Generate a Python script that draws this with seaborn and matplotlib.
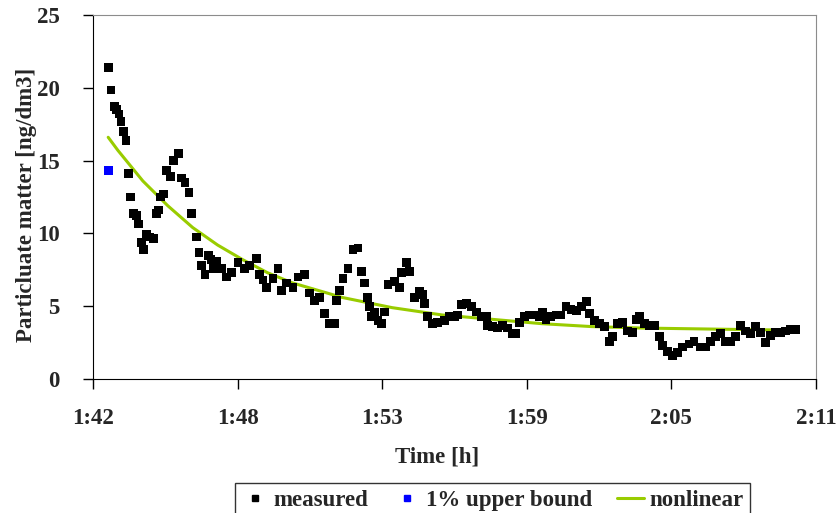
import seaborn as sns
import pandas as pd
import matplotlib.pyplot as plt
from matplotlib.lines import Line2D

#-----------------------------------------------------------------------------------------------------------------------
"""Data read off the chart (time = minutes after 1:42)"""
t_measured = [0.61, 0.72, 0.85, 0.95, 1.04, 1.12, 1.21, 1.32, 1.41, 1.52, 1.61, 1.75, 1.81, 1.95, 2.02,
              2.15, 2.28, 2.42, 2.55, 2.62, 2.72, 2.82, 2.95, 3.12, 3.22, 3.42, 3.55, 3.69, 3.85, 3.95,
              4.15, 4.25, 4.35, 4.49, 4.62, 4.73, 4.82, 4.96, 5.16, 5.36, 5.56, 5.82, 6.09, 6.29, 6.56,
              6.69, 6.82, 6.96, 7.22, 7.42, 7.56, 7.76, 8.02, 8.22, 8.49, 8.69, 8.89, 9.09, 9.29, 9.49,
              9.69, 9.76, 9.89, 10.03, 10.23, 10.43, 10.63, 10.76, 10.90, 11.00, 11.10, 11.16, 11.30, 11.43,
              11.56, 11.70, 11.83, 12.10, 12.30, 12.37, 12.57, 12.70, 12.90, 13.10, 13.23, 13.30, 13.43, 13.63,
              13.83, 14.10, 14.30, 14.50, 14.61, 14.77, 14.97, 15.17, 15.37, 15.57, 15.77, 15.83, 16.03, 16.23,
              16.44, 16.64, 16.84, 16.97, 17.10, 17.30, 17.50, 17.70, 17.91, 18.04, 18.17, 18.37, 18.57, 18.77,
              18.97, 19.17, 19.38, 19.58, 19.78, 19.91, 20.11, 20.31, 20.51, 20.71, 20.84, 21.04, 21.24, 21.44,
              21.64, 21.78, 21.91, 22.11, 22.31, 22.51, 22.71, 22.84, 23.04, 23.24, 23.44, 23.64, 23.91, 24.11,
              24.38, 24.58, 24.78, 24.98, 25.18, 25.38, 25.58, 25.78, 25.98, 26.18, 26.38, 26.58, 26.79, 26.99,
              27.19, 27.39, 27.59, 27.79, 27.99, 28.19]
pm_measured = [21.4, 19.85, 18.7, 18.5, 18.2, 17.7, 17.0, 16.4, 14.1, 12.5, 11.35, 11.25, 10.65, 9.35, 8.9,
               9.95, 9.75, 9.65, 11.35, 11.6, 12.5, 12.7, 14.3, 13.9, 15.0, 15.5, 13.8, 13.5, 12.8, 11.35,
               9.75, 8.7, 7.8, 7.2, 8.5, 8.2, 7.6, 8.1, 7.6, 7.0, 7.3, 8.0, 7.6, 7.8, 8.3,
               7.2, 6.8, 6.3, 6.9, 7.6, 6.1, 6.6, 6.3, 7.0, 7.2, 5.9, 5.4, 5.6, 4.5, 3.8,
               3.8, 5.4, 6.1, 6.9, 7.6, 8.9, 9.0, 7.4, 6.6, 5.6, 5.0, 4.3, 4.6, 4.0,
               3.8, 4.6, 6.5, 6.7, 6.3, 7.3, 8.0, 7.4, 5.6, 6.0, 5.8, 5.2, 4.3, 3.8,
               3.9, 4.0, 4.3, 4.3, 4.4, 5.1, 5.2, 5.0, 4.6, 4.3, 4.3, 3.7, 3.6, 3.5,
               3.7, 3.5, 3.1, 3.1, 3.9, 4.3, 4.4, 4.4, 4.3, 4.6, 4.1, 4.3, 4.4, 4.4,
               5.0, 4.8, 4.7, 5.0, 5.3, 4.5, 4.0, 3.8, 3.6, 2.6, 2.9, 3.8, 3.9, 3.3,
               3.2, 4.1, 4.3, 3.8, 3.7, 3.7, 2.9, 2.3, 1.9, 1.6, 1.8, 2.2, 2.4, 2.6,
               2.2, 2.2, 2.6, 2.9, 3.1, 2.6, 2.6, 2.9, 3.7, 3.3, 3.1, 3.6, 3.2, 2.5,
               3.0, 3.2, 3.2, 3.3, 3.4, 3.4]

t_bound = [0.61]
pm_bound = [14.3]

t_fit = [0.61, 1, 2, 3, 4, 5, 6, 7, 8, 9, 10, 12, 14, 16, 18, 20, 22, 24, 26, 28.2]
pm_fit = [16.6, 15.7, 13.6, 11.9, 10.4, 9.2, 8.2, 7.3, 6.6, 6.1, 5.6, 4.9, 4.4, 4.1, 3.8, 3.6, 3.5, 3.45, 3.4, 3.35]

tick_pos = [0, 5.8, 11.6, 17.4, 23.2, 29]
tick_labels = ['1:42', '1:48', '1:53', '1:59', '2:05', '2:11']

df_meas = pd.DataFrame({'time': t_measured, 'pm': pm_measured})
df_bound = pd.DataFrame({'time': t_bound, 'pm': pm_bound})
df_fit = pd.DataFrame({'time': t_fit, 'pm': pm_fit})

#-----------------------------------------------------------------------------------------------------------------------
"""Figure"""
sns.set_style('white')
plt.rcParams['font.family'] = ['Liberation Serif', 'DejaVu Serif']
plt.rcParams['font.weight'] = 'bold'
FS = 16.5

fig = plt.figure(figsize=(8.4, 5.13), dpi=100)
ax = fig.add_axes([0.1107, 0.2612, 0.8607, 0.7096])

GREEN = '#99cc00'
sns.lineplot(data=df_fit, x='time', y='pm', color=GREEN, linewidth=2.2, ax=ax, zorder=2, legend=False)
sns.scatterplot(data=df_meas, x='time', y='pm', marker='s', s=40, color='black', edgecolor='none',
                linewidth=0, ax=ax, zorder=3, legend=False)
sns.scatterplot(data=df_bound, x='time', y='pm', marker='s', s=40, color='#0000ff', edgecolor='none',
                linewidth=0, ax=ax, zorder=4, legend=False)

#-----------------------------------------------------------------------------------------------------------------------
"""Axes"""
ax.set_xlim(0, 29)
ax.set_ylim(0, 25)
ax.set_xticks(tick_pos)
ax.set_xticklabels(tick_labels)
ax.set_yticks([0, 5, 10, 15, 20, 25])

ax.tick_params(axis='x', bottom=True, direction='out', length=7, width=1, color='black',
               labelsize=FS, pad=14)
ax.tick_params(axis='y', left=True, direction='out', length=7, width=1, color='black',
               labelsize=FS, pad=17)

ax.set_xlabel('Time [h]', fontsize=FS, fontweight='bold')
ax.set_ylabel('Particluate matter [ng/dm3]', fontsize=FS, fontweight='bold')
ax.xaxis.set_label_coords(0.476, -0.185)
ax.yaxis.set_label_coords(-0.077, 0.478)

ax.spines['left'].set_color('black')
ax.spines['bottom'].set_color('black')
ax.spines['top'].set_color('#8c8c8c')
ax.spines['right'].set_color('#8c8c8c')
for s in ['top', 'right']:
    ax.spines[s].set_linewidth(0.8)
ax.grid(False)

#-----------------------------------------------------------------------------------------------------------------------
"""Legend"""
handles = [
    Line2D([], [], linestyle='none', marker='s', markersize=5, color='black'),
    Line2D([], [], linestyle='none', marker='s', markersize=5, color='#0000ff'),
    Line2D([], [], color=GREEN, linewidth=2.2),
]
leg = fig.legend(handles, ['measured', '1% upper bound', 'nonlinear'], loc='upper center',
                 bbox_to_anchor=(0.586, 0.0585), ncol=3, fontsize=FS, frameon=True, fancybox=False,
                 edgecolor='black', handlelength=1.2, handletextpad=0.2, columnspacing=1.1,
                 borderpad=0.3, borderaxespad=0)
leg.get_frame().set_linewidth(1)

fig.savefig('out.png', dpi=100)
